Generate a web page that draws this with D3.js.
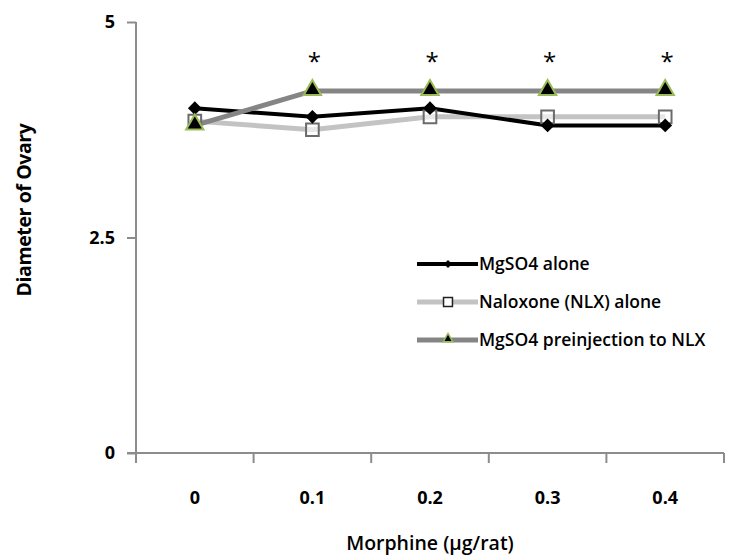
<!DOCTYPE html>
<meta charset="utf-8">
<style>
body { margin: 0; background: #fff; }
text { font-family: "Open Sans", "Liberation Sans", sans-serif; }
</style>
<svg width="749" height="558"></svg>
<script src="https://cdn.jsdelivr.net/npm/d3@7"></script>
<script>

var doses = ["0", "0.1", "0.2", "0.3", "0.4"];
var mgso4 = [4.0, 3.9, 4.0, 3.8, 3.8];
var naloxone = [3.85, 3.75, 3.9, 3.9, 3.9];
var preinj = [3.8, 4.2, 4.2, 4.2, 4.2];
var signif = [false, true, true, true, true];
var yTicks = [0, 2.5, 5];
var seriesNames = ["MgSO4 alone", "Naloxone (NLX) alone", "MgSO4 preinjection to NLX"];

var svg = d3.select("svg");

var x = d3.scaleBand().domain(doses).range([136, 724]);
var y = d3.scaleLinear().domain([0, 5]).range([453, 22]);

// axes
var yAxis = svg.append("g").attr("transform", "translate(136,0)")
  .call(d3.axisLeft(y).tickValues(yTicks).tickSize(9).tickPadding(12).tickFormat(d3.format("")));
yAxis.select(".domain").attr("stroke", "#8c8c8c").attr("stroke-width", 2).attr("d", "M0,22V462");
yAxis.selectAll(".tick line").attr("stroke", "#8c8c8c").attr("stroke-width", 2);
yAxis.selectAll(".tick text").attr("font-size", 18).attr("font-weight", "bold").attr("fill", "#000");

var xAxis = svg.append("g").attr("transform", "translate(0,453)")
  .call(d3.axisBottom(x).tickSize(0).tickPadding(38));
xAxis.select(".domain").attr("stroke", "#8c8c8c").attr("stroke-width", 2).attr("d", "M127,0H724");
xAxis.selectAll(".tick text").attr("font-size", 18).attr("font-weight", "bold").attr("fill", "#000");

// category boundary ticks
var bounds = doses.map(function(d) { return x(d); }).concat([x.range()[1]]);
svg.append("g").selectAll("line").data(bounds).enter().append("line")
  .attr("x1", function(d) { return d; }).attr("x2", function(d) { return d; })
  .attr("y1", 453).attr("y2", 463)
  .attr("stroke", "#8c8c8c").attr("stroke-width", 2);

svg.append("text")
  .attr("transform", "translate(31,210) rotate(-90)")
  .attr("text-anchor", "middle")
  .attr("font-size", 19.5).attr("font-weight", "bold").attr("letter-spacing", -0.4)
  .text("Diameter of Ovary");

svg.append("text")
  .attr("x", 430).attr("y", 550)
  .attr("text-anchor", "middle")
  .attr("font-size", 19.5).attr("font-weight", 600)
  .text("Morphine (µg/rat)");

var cx = function(d, i) { return x(doses[i]) + x.bandwidth() / 2; };
var line = d3.line().x(function(d, i) { return cx(d, i); }).y(function(d) { return y(d); });

// lines
svg.append("path").datum(naloxone).attr("d", line).attr("fill", "none")
  .attr("stroke", "#c3c3c3").attr("stroke-width", 5);
svg.append("path").datum(mgso4).attr("d", line).attr("fill", "none")
  .attr("stroke", "#000").attr("stroke-width", 4);
svg.append("path").datum(preinj).attr("d", line).attr("fill", "none")
  .attr("stroke", "#858585").attr("stroke-width", 5);

var diamond = d3.symbol().type(d3.symbolDiamond2).size(120);
var square = d3.symbol().type(d3.symbolSquare).size(160);
var tri = d3.symbol().type(d3.symbolTriangle).size(130);

svg.append("g").selectAll("path").data(naloxone).enter().append("path")
  .attr("d", square)
  .attr("transform", function(d, i) { return "translate(" + cx(d, i) + "," + y(d) + ")"; })
  .attr("fill", "#fff").attr("fill-opacity", 0.6).attr("stroke", "#6b6b6b").attr("stroke-width", 2);
svg.append("g").selectAll("path").data(mgso4).enter().append("path")
  .attr("d", diamond)
  .attr("transform", function(d, i) { return "translate(" + cx(d, i) + "," + y(d) + ")"; })
  .attr("fill", "#000");
svg.append("g").selectAll("path").data(preinj).enter().append("path")
  .attr("d", tri)
  .attr("transform", function(d, i) { return "translate(" + cx(d, i) + "," + (y(d) - 1) + ")"; })
  .attr("fill", "#000").attr("stroke", "#9bbb59").attr("stroke-width", 2);

// asterisks
svg.append("g").selectAll("text").data(preinj).enter()
  .filter(function(d, i) { return signif[i]; })
  .append("text")
  .attr("x", function(d, i) { return cx(d, i + 1) + 2; })
  .attr("y", 70)
  .attr("text-anchor", "middle")
  .attr("font-size", 24)
  .text("*");

// legend
var leg = svg.append("g").attr("transform", "translate(417,264)");
var legStyles = [
  { stroke: "#000", w: 4 },
  { stroke: "#c3c3c3", w: 5 },
  { stroke: "#858585", w: 5 }
];
seriesNames.forEach(function(name, i) {
  var g = leg.append("g").attr("transform", "translate(0," + i * 38 + ")");
  g.append("line").attr("x1", 0).attr("x2", 61).attr("y1", 0).attr("y2", 0)
    .attr("stroke", legStyles[i].stroke).attr("stroke-width", legStyles[i].w);
  if (i === 0) g.append("path").attr("d", d3.symbol().type(d3.symbolDiamond2).size(40)).attr("transform", "translate(31,0)").attr("fill", "#000");
  if (i === 1) g.append("path").attr("d", d3.symbol().type(d3.symbolSquare).size(80)).attr("transform", "translate(31,0)").attr("fill", "#fff").attr("stroke", "#222").attr("stroke-width", 1.5);
  if (i === 2) g.append("path").attr("d", d3.symbol().type(d3.symbolTriangle).size(40)).attr("transform", "translate(31,-1)").attr("fill", "#000").attr("stroke", "#9bbb59").attr("stroke-width", 1.5);
  g.append("text").attr("x", 62).attr("y", 6)
    .attr("font-size", 17.5).attr("font-weight", 600)
    .text(name);
});

</script>
